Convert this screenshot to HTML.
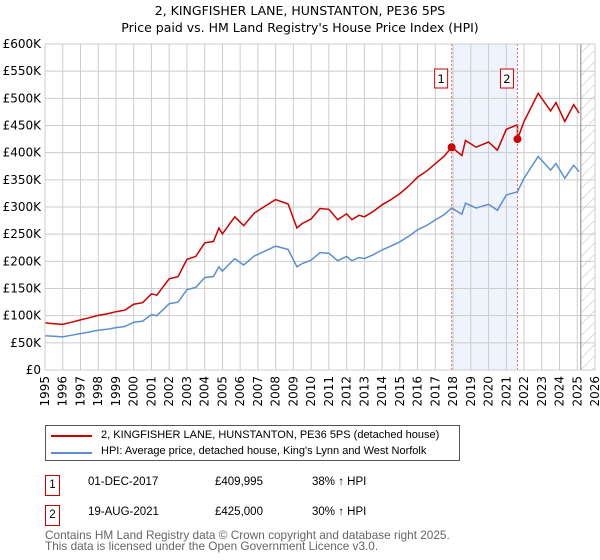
<!DOCTYPE html>
<html><head><meta charset="utf-8"><style>
body{margin:0;background:#fff;font-family:"Liberation Sans","DejaVu Sans",sans-serif;}
#wrap{position:relative;width:600px;height:560px;overflow:hidden;}
.t{position:absolute;font-size:13px;color:#000;white-space:nowrap;}
svg text{font-family:"DejaVu Sans","Liberation Sans",sans-serif;}
</style></head><body>
<div id="wrap">
<svg id="chart" width="600" height="420" style="position:absolute;left:0;top:0">
<defs><pattern id="hatch" width="8" height="8" patternUnits="userSpaceOnUse" patternTransform="rotate(45)"><line x1="0" y1="0" x2="0" y2="8" stroke="#bbb" stroke-width="1"/></pattern></defs>
<text x="300" y="15" text-anchor="middle" font-size="12.5">2, KINGFISHER LANE, HUNSTANTON, PE36 5PS</text>
<text x="300" y="32" text-anchor="middle" font-size="12.5">Price paid vs. HM Land Registry's House Price Index (HPI)</text>
<g id="grid"></g><g id="marks"></g><g id="axes"></g>
</svg>
<div style="position:absolute;left:45px;top:425px;width:413px;height:34px;border:1px solid #555;">
<div style="position:absolute;left:5px;top:9px;width:41px;height:2px;background:#cc0000"></div>
<div class="t" style="left:55px;top:3px;font-size:11px">2, KINGFISHER LANE, HUNSTANTON, PE36 5PS (detached house)</div>
<div style="position:absolute;left:5px;top:26px;width:41px;height:2px;background:#5b8fd0"></div>
<div class="t" style="left:55px;top:19px;font-size:11px">HPI: Average price, detached house, King's Lynn and West Norfolk</div>
</div>
<div style="position:absolute;left:45px;top:475px;width:13px;height:19px;border:1px solid #cc0000;font-size:11.5px;text-align:center;line-height:19px">1</div>
<div class="t" style="left:88px;top:476px;font-size:11.5px">01-DEC-2017</div>
<div class="t" style="left:215px;top:476px;font-size:11.5px">£409,995</div>
<div class="t" style="left:312px;top:476px;font-size:11.5px">38% ↑ HPI</div>
<div style="position:absolute;left:45px;top:505px;width:13px;height:19px;border:1px solid #cc0000;font-size:11.5px;text-align:center;line-height:19px">2</div>
<div class="t" style="left:88px;top:506px;font-size:11.5px">19-AUG-2021</div>
<div class="t" style="left:215px;top:506px;font-size:11.5px">£425,000</div>
<div class="t" style="left:312px;top:506px;font-size:11.5px">30% ↑ HPI</div>
<div class="t" style="left:45px;top:530px;font-size:11.8px;color:#666;line-height:11px">Contains HM Land Registry data © Crown copyright and database right 2025.<br>This data is licensed under the Open Government Licence v3.0.</div>
</div>
<script>
const hpiYears=[1995,1995.5,1996,1996.5,1997,1997.5,1998,1998.5,1999,1999.5,2000,2000.5,2001,2001.3,2002,2002.5,2003,2003.5,2004,2004.5,2004.8,2005,2005.7,2006.2,2006.8,2007,2007.6,2008,2008.7,2009.2,2009.5,2010,2010.5,2011,2011.5,2012,2012.3,2012.7,2013,2013.5,2014,2014.5,2015,2015.5,2016,2016.5,2017,2017.5,2017.92,2018.5,2018.7,2019.3,2020,2020.5,2021,2021.63,2022,2022.8,2023.5,2023.8,2024.3,2024.8,2025.1];
const hpiValues=[63,62,61,64,67,70,73,75,78,80,88,90,102,100,122,125,148,152,170,172,190,182,205,193,210,213,222,228,222,190,196,202,216,215,201,209,201,207,205,212,221,228,236,246,258,266,276,286,298,287,307,298,305,294,322,328,353,393,368,380,353,377,365];
const saleDates=[2017.92,2021.63];
const salePrices=[409.995,425];
const saleLabels=["1","2"];
const yTicks=[0,50,100,150,200,250,300,350,400,450,500,550,600];
const yTickLabels=["£0","£50K","£100K","£150K","£200K","£250K","£300K","£350K","£400K","£450K","£500K","£550K","£600K"];
const xTicks=[1995,1996,1997,1998,1999,2000,2001,2002,2003,2004,2005,2006,2007,2008,2009,2010,2011,2012,2013,2014,2015,2016,2017,2018,2019,2020,2021,2022,2023,2024,2025,2026];
const NS="http://www.w3.org/2000/svg";
const X0=45,X1=595,Y0=370,Y1=44;
const xs=y=>X0+(y-1995)/(2026-1995)*(X1-X0);
const ys=v=>Y0-v/600*(Y0-Y1);
function mk(p,tag,a){const e=document.createElementNS(NS,tag);for(const k in a)e.setAttribute(k,a[k]);p.appendChild(e);return e;}
const grid=document.getElementById('grid'),marks=document.getElementById('marks'),axes=document.getElementById('axes');
let sh=mk(grid,'rect',{x:xs(saleDates[0]),y:Y1,width:xs(saleDates[1])-xs(saleDates[0]),height:Y0-Y1,fill:'#eef3fc'});


let ht=mk(grid,'rect',{x:xs(2025.2),y:Y1,width:X1-xs(2025.2),height:Y0-Y1,fill:'url(#hatch)'});


yTicks.forEach((v,i)=>{
 let l=mk(grid,'line',{x1:X0,x2:X1,y1:ys(v),y2:ys(v),stroke:'#ccc','stroke-width':1});
 
 
 let t=mk(axes,'text',{x:X0-4,y:ys(v)+4,'text-anchor':'end','font-size':12});
 t.textContent=yTickLabels[i];
 
 
});
xTicks.forEach(yr=>{
 let l=mk(grid,'line',{x1:xs(yr),x2:xs(yr),y1:Y1,y2:Y0,stroke:'#ccc','stroke-width':1});
 
 
 let t=mk(axes,'text',{x:0,y:0,'font-size':12,'text-anchor':'end',transform:`translate(${xs(yr)+4},${Y0+6}) rotate(-90)`});
 t.textContent=yr;
 
 
});
let ed=mk(grid,'line',{x1:xs(2025.2),x2:xs(2025.2),y1:Y1,y2:Y0,stroke:'#999','stroke-width':1.2});


const hp=hpiYears.map((y,i)=>xs(y).toFixed(1)+','+ys(hpiValues[i]).toFixed(1)).join(' ');
let hl=mk(marks,'polyline',{points:hp,fill:'none',stroke:'#5b8fd0','stroke-width':1.5});


function hpiAt(t){for(let i=1;i<hpiYears.length;i++){if(t<=hpiYears[i]){const f=(t-hpiYears[i-1])/(hpiYears[i]-hpiYears[i-1]);return hpiValues[i-1]+f*(hpiValues[i]-hpiValues[i-1]);}}return hpiValues[hpiValues.length-1];}
const r1=salePrices[0]/hpiAt(saleDates[0]),r2=salePrices[1]/hpiAt(saleDates[1]);
const pp=[];
hpiYears.forEach((y,i)=>{
 if(y>saleDates[1]-1e-6&&pp.length&&!pp.done){pp.push([saleDates[1],hpiAt(saleDates[1])*r1]);pp.push([saleDates[1],salePrices[1]]);pp.done=1;}
 const r=y<saleDates[1]?r1:r2;
 if(Math.abs(y-saleDates[1])>1e-6)pp.push([y,hpiValues[i]*r]);
});
let pl=mk(marks,'polyline',{points:pp.map(p=>xs(p[0]).toFixed(1)+','+ys(p[1]).toFixed(1)).join(' '),fill:'none',stroke:'#cc0000','stroke-width':1.5});


saleDates.forEach((d,i)=>{
 let v=mk(marks,'line',{x1:xs(d),x2:xs(d),y1:Y1,y2:Y0,stroke:'#e66','stroke-width':1,'stroke-dasharray':'2,2'});
 
 
 let c=mk(marks,'circle',{cx:xs(d),cy:ys(salePrices[i]),r:4,fill:'#cc0000'});
 
 
 let b=mk(marks,'rect',{x:xs(d)-17,y:69,width:13,height:19,fill:'#fff',stroke:'#cc0000'});
 
 
 let t=mk(marks,'text',{x:xs(d)-10.5,y:83,'text-anchor':'middle','font-size':11.5});
 t.textContent=saleLabels[i];
 
 
});
let bd=mk(axes,'rect',{x:X0,y:Y1,width:X1-X0,height:Y0-Y1,fill:'none',stroke:'#ccc'});


</script>
</body></html>
